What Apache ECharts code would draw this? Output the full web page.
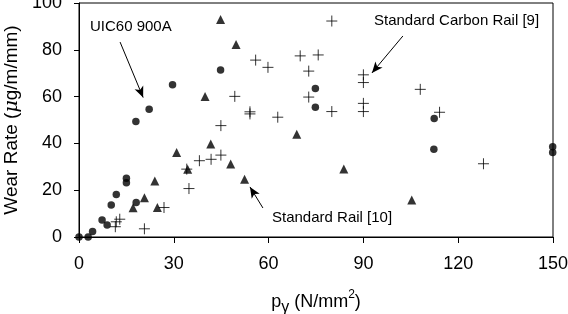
<!DOCTYPE html>
<html>
<head>
<meta charset="utf-8">
<script src="https://cdn.jsdelivr.net/npm/echarts@6/dist/echarts.min.js"></script>
<style>
  html, body { margin: 0; padding: 0; background: #fff; }
  #chart { width: 568px; height: 314px; }
</style>
</head>
<body>
<div id="chart"></div>
<script>
// x = p_gamma (N/mm2), y = wear rate (ug/m/mm)
var uicPoints = [
  [0, 0], [2.9, 0], [4.3, 2.3], [7.3, 7.3], [8.9, 5.1], [10.2, 13.7],
  [11.8, 18.2], [15, 25.1], [15, 23.2], [18.1, 14.7], [18, 49.4],
  [22.2, 54.6], [29.6, 65.1], [44.8, 71.4], [74.8, 63.5], [74.8, 55.4],
  [112.4, 50.6], [112.3, 37.5], [149.9, 38.6], [149.9, 36.1]
];
var railPoints = [
  [17.1, 12.5], [20.7, 16.8], [24, 23.9], [24.8, 12.6], [30.9, 36.1],
  [34.4, 28.9], [39.9, 60], [41.7, 39.7], [44.8, 93], [48, 31.2],
  [49.7, 82.3], [52.4, 24.7], [68.9, 43.9], [83.8, 29.1], [105.3, 15.8]
];
var carbonPoints = [
  [11.5, 4.4], [11.8, 6.5], [12.9, 7.6], [20.7, 3.5], [26.9, 12.6],
  [34.1, 29], [34.8, 20.7], [38.1, 32.6], [41.8, 33.2], [44.9, 35],
  [44.9, 47.6], [49.3, 60.1], [54.1, 53.5], [54.1, 52.6], [55.9, 75.6],
  [59.8, 72.5], [62.9, 51.2], [70, 77.4], [72.7, 70.9], [72.7, 59.8],
  [75.7, 77.8], [80, 92.3], [80, 53.6], [90, 69.3], [90, 66], [90, 57.1],
  [90, 53.6], [108, 63.1], [114.1, 53.3], [128, 31.3]
];
// annotation arrows, [from, to] in data units
var arrowLines = [
  [[13, 83.3], [20.3, 59.6]],
  [[102.5, 85.9], [92.7, 70.1]],
  [[58.2, 12.4], [54.1, 21.4]]
];
var xTicks = { min: 0, max: 150, interval: 30 };
var yTicks = { min: 0, max: 100, interval: 20 };

var font = "'Liberation Sans', Arial, sans-serif";
var chart = echarts.init(document.getElementById('chart'));

var option = {
  animation: false,
  backgroundColor: '#fff',
  textStyle: { fontFamily: font, color: '#000' },
  grid: {
    left: 79, right: 15, top: 3, bottom: 77,
    outerBoundsMode: 'none',
    containLabel: false,
    show: true, borderColor: '#000', borderWidth: 1
  },
  xAxis: {
    type: 'value',
    min: xTicks.min, max: xTicks.max, interval: xTicks.interval,
    axisLine: { lineStyle: { color: '#000', width: 1 } },
    axisTick: { inside: false, length: 6, lineStyle: { color: '#000' } },
    splitLine: { show: false },
    axisLabel: { color: '#000', fontSize: 18, fontFamily: font, margin: 18 },
    name: '{a|p}{s|γ}{a| (N/mm}{p|2}{a|)}',
    nameLocation: 'middle',
    nameGap: 52,
    nameTextStyle: {
      rich: {
        a: { fontSize: 18, fontFamily: font, color: '#000', verticalAlign: 'bottom', lineHeight: 22 },
        s: { fontSize: 16, fontFamily: font, color: '#000', verticalAlign: 'bottom', lineHeight: 22, padding: [0, 0, -5, 0] },
        p: { fontSize: 12, fontFamily: font, color: '#000', verticalAlign: 'top', lineHeight: 22 }
      }
    }
  },
  yAxis: {
    type: 'value',
    min: yTicks.min, max: yTicks.max, interval: yTicks.interval,
    axisLine: { show: true, lineStyle: { color: '#000', width: 1 } },
    axisTick: { show: true, inside: false, length: 5, lineStyle: { color: '#000' } },
    splitLine: { show: false },
    axisLabel: { color: '#000', fontSize: 18, fontFamily: font, margin: 17 },
    name: '{a|Wear Rate (}{m|μ}{a|g/m/mm)}',
    nameLocation: 'middle',
    nameGap: 57,
    nameTextStyle: {
      rich: {
        a: { fontSize: 19, fontFamily: font, color: '#000' },
        m: { fontSize: 19, fontFamily: "'DejaVu Serif', serif", fontStyle: 'italic', color: '#000' }
      }
    }
  },
  series: [
    {
      name: 'UIC60 900A',
      type: 'scatter',
      symbol: 'circle',
      symbolSize: 7.5,
      itemStyle: { color: '#000' },
      data: uicPoints,
      markLine: {
        silent: true,
        symbol: ['none', 'arrow'],
        symbolSize: [7, 11],
        label: { show: false },
        lineStyle: { color: '#000', width: 1, type: 'solid' },
        data: arrowLines.map(function (l) {
          return [{ coord: l[0] }, { coord: l[1] }];
        })
      }
    },
    {
      name: 'Standard Rail [10]',
      type: 'scatter',
      symbol: 'triangle',
      symbolSize: 9,
      itemStyle: { color: '#000' },
      data: railPoints
    },
    {
      name: 'Standard Carbon Rail [9]',
      type: 'scatter',
      symbol: 'path://M0,5L10,5M5,0L5,10',
      symbolSize: 11,
      itemStyle: { color: 'rgba(0,0,0,0)', borderColor: '#000', borderWidth: 1 },
      data: carbonPoints
    }
  ],
  graphic: [
    { type: 'text', left: 90, top: 19, style: { text: 'UIC60 900A', fontSize: 15, fontFamily: font, fill: '#000' } },
    { type: 'text', left: 374, top: 13, style: { text: 'Standard Carbon Rail [9]', fontSize: 15, fontFamily: font, fill: '#000' } },
    { type: 'text', left: 272, top: 210, style: { text: 'Standard Rail [10]', fontSize: 15, fontFamily: font, fill: '#000' } }
  ]
};

chart.setOption(option);
window.addEventListener('resize', function () {
  chart.resize();
});
</script>
</body>
</html>
